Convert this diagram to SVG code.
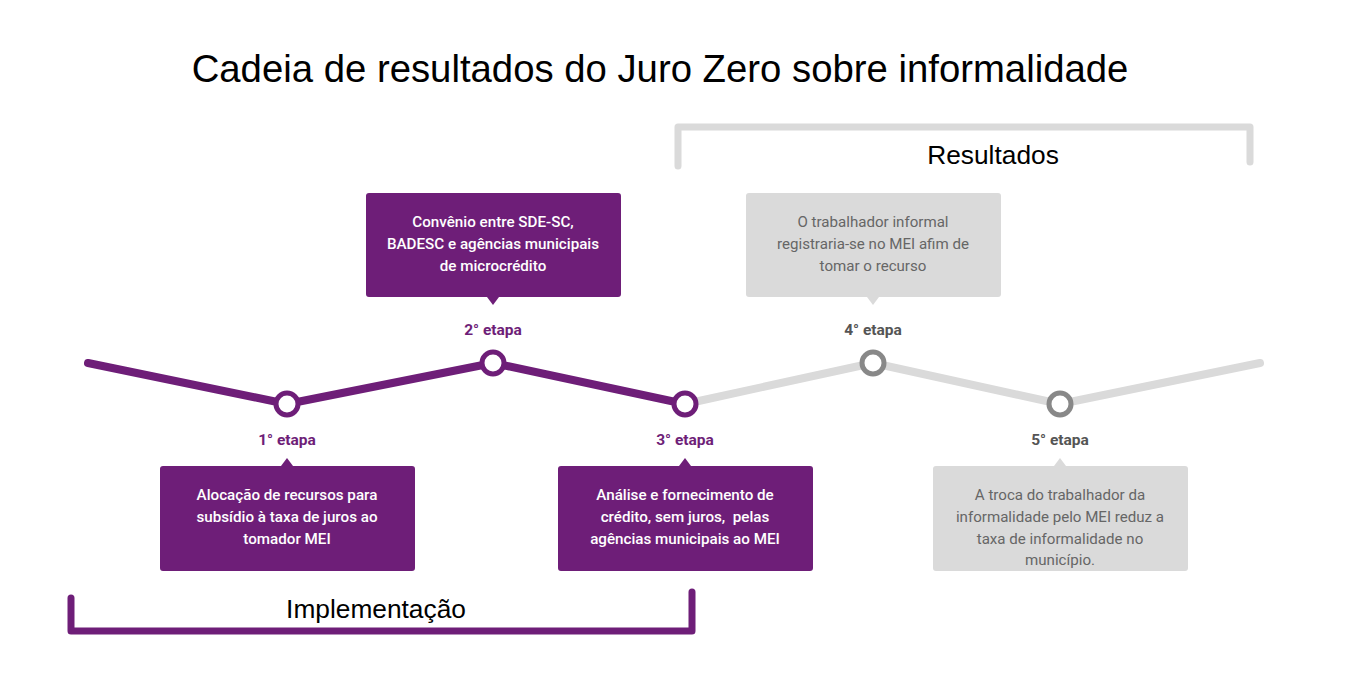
<svg xmlns="http://www.w3.org/2000/svg" width="1356" height="698" viewBox="0 0 1356 698">
<style>
.title{font-family:"Liberation Sans",Arial,sans-serif;font-size:38.3px;fill:#000;text-anchor:middle}
.brk{font-family:"Liberation Sans",Arial,sans-serif;font-size:26.3px;fill:#000;text-anchor:middle}
.pbox{fill:#6e1e78}
.gbox{fill:#dadada}
.pt{font-family:Roboto,"Noto Sans",sans-serif;font-size:15.2px;font-weight:500;fill:#fff;text-anchor:middle}
.gt{font-family:Roboto,"Noto Sans",sans-serif;font-size:15.1px;fill:#666;text-anchor:middle}
.pl{font-family:Roboto,"Noto Sans",sans-serif;font-size:15.5px;font-weight:bold;fill:#6e1e78;text-anchor:middle}
.gl{font-family:Roboto,"Noto Sans",sans-serif;font-size:15.5px;font-weight:bold;fill:#555;text-anchor:middle}
.pline{fill:none;stroke:#6e1e78;stroke-width:8;stroke-linecap:round;stroke-linejoin:round}
.gline{fill:none;stroke:#dadada;stroke-width:8;stroke-linecap:round;stroke-linejoin:round}
.pc{fill:#fff;stroke:#6e1e78;stroke-width:5}
.gc{fill:#fff;stroke:#888;stroke-width:5}
</style>
<rect width="1356" height="698" fill="#fff"/>
<text class="title" x="660" y="82">Cadeia de resultados do Juro Zero sobre informalidade</text>

<g id="bracket-resultados">
<path d="M678,166 V127 H1250 V162" fill="none" stroke="#dadada" stroke-width="7" stroke-linecap="round" stroke-linejoin="round"/>
<text class="brk" x="993" y="164">Resultados</text>
</g>
<g id="bracket-implementacao">
<path d="M71,598 V631 H692 V592" fill="none" stroke="#6e1e78" stroke-width="7" stroke-linecap="round" stroke-linejoin="round"/>
<text class="brk" x="376" y="618">Implementação</text>
</g>

<g id="connectors">
<path class="gline" d="M685,404 L873,363 L1060,404 L1260,363"/>
<path class="pline" d="M88,363 L287,404 L493,363 L685,404"/>
</g>

<g id="etapa1">
<circle class="pc" cx="287" cy="404" r="11"/>
<text class="pl" x="287" y="445">1° etapa</text>
<path class="pbox" d="M163,466 H281 L287,458 L293,466 H412 Q415,466 415,469 V568 Q415,571 412,571 H163 Q160,571 160,568 V469 Q160,466 163,466 Z"/>
<text class="pt" x="287" y="500">Alocação de recursos para</text>
<text class="pt" x="287" y="522">subsídio à taxa de juros ao</text>
<text class="pt" x="287" y="544">tomador MEI</text>
</g>

<g id="etapa2">
<circle class="pc" cx="493" cy="363" r="11"/>
<text class="pl" x="493" y="335">2° etapa</text>
<path class="pbox" d="M369,193 H618 Q621,193 621,196 V294 Q621,297 618,297 H499 L493,305 L487,297 H369 Q366,297 366,294 V196 Q366,193 369,193 Z"/>
<text class="pt" x="493" y="227">Convênio entre SDE-SC,</text>
<text class="pt" x="493" y="249">BADESC e agências municipais</text>
<text class="pt" x="493" y="271">de microcrédito</text>
</g>

<g id="etapa3">
<circle class="pc" cx="685" cy="404" r="11"/>
<text class="pl" x="685" y="445">3° etapa</text>
<path class="pbox" d="M561,466 H679 L685,458 L691,466 H810 Q813,466 813,469 V568 Q813,571 810,571 H561 Q558,571 558,568 V469 Q558,466 561,466 Z"/>
<text class="pt" x="685" y="500">Análise e fornecimento de</text>
<text class="pt" x="685" y="522" xml:space="preserve">crédito, sem juros,  pelas</text>
<text class="pt" x="685" y="544">agências municipais ao MEI</text>
</g>

<g id="etapa4">
<circle class="gc" cx="873" cy="363" r="11"/>
<text class="gl" x="873" y="335">4° etapa</text>
<path class="gbox" d="M749,193 H998 Q1001,193 1001,196 V294 Q1001,297 998,297 H879 L873,305 L867,297 H749 Q746,297 746,294 V196 Q746,193 749,193 Z"/>
<text class="gt" x="873" y="227">O trabalhador informal</text>
<text class="gt" x="873" y="249">registraria-se no MEI afim de</text>
<text class="gt" x="873" y="271">tomar o recurso</text>
</g>

<g id="etapa5">
<circle class="gc" cx="1060" cy="404" r="11"/>
<text class="gl" x="1060" y="445">5° etapa</text>
<path class="gbox" d="M936,466 H1054 L1060,458 L1066,466 H1185 Q1188,466 1188,469 V568 Q1188,571 1185,571 H936 Q933,571 933,568 V469 Q933,466 936,466 Z"/>
<text class="gt" x="1060" y="500">A troca do trabalhador da</text>
<text class="gt" x="1060" y="522">informalidade pelo MEI reduz a</text>
<text class="gt" x="1060" y="544">taxa de informalidade no</text>
<text class="gt" x="1060" y="565">município.</text>
</g>
</svg>
